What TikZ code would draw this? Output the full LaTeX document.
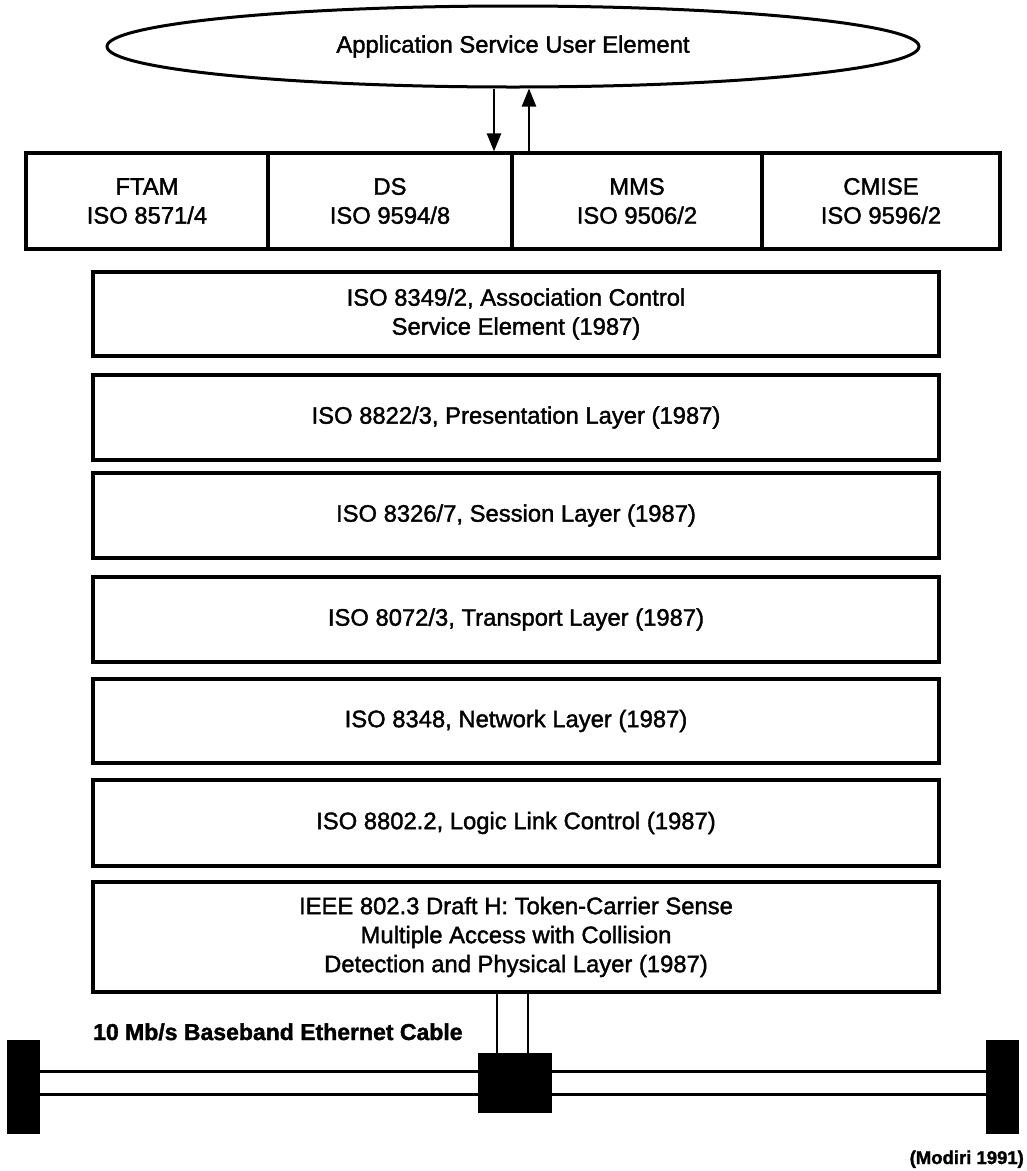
\documentclass[tikz,border=0pt]{standalone}
\usepackage{fontspec}
\setmainfont[FakeBold=1.6,BoldFeatures={FakeBold=1.6}]{Liberation Sans}
\usetikzlibrary{arrows.meta,shapes.geometric}
\begin{document}
\begin{tikzpicture}[x=1pt,y=-1pt,
  txt/.style={font=\fontsize{23.8}{29}\selectfont},
  box/.style={draw, line width=3.2pt, rectangle, inner sep=0pt, align=center, txt},
  toprow/.style={box, minimum height=96pt},
  layer/.style={box, minimum width=846pt},
  arr/.style={line width=2.4pt, -{Triangle[length=18pt,width=14pt]}},
  blk/.style={fill=black, draw=black, inner sep=0pt},
  cable/.style={line width=3pt},
  stub/.style={line width=2.6pt}]
\useasboundingbox (0,0) rectangle (1027,1171);

% top ellipse
\node[draw, ellipse, line width=3pt, minimum width=812pt, minimum height=81pt, inner sep=0pt, txt] (ase) at (513,46.5) {Application Service User Element};

% application row
\node[toprow, minimum width=242pt] (ftam) at (147,201) {FTAM\\ISO 8571/4};
\node[toprow, minimum width=244pt] (ds) at (390,201) {DS\\ISO 9594/8};
\node[toprow, minimum width=250pt] (mms) at (637,201) {MMS\\ISO 9506/2};
\node[toprow, minimum width=238pt] (cmise) at (881,201) {CMISE\\ISO 9596/2};

% arrows
\coordinate (dx) at (494,0);
\coordinate (ux) at (529,0);
\draw[arr] (ase.south -| dx) -- (ds.north -| dx);
\draw[arr] (mms.north -| ux) -- (ase.south -| ux);

% layers
\node[layer, minimum height=84pt] (acse) at (516,314) {ISO 8349/2, Association Control\\Service Element (1987)};
\node[layer, minimum height=85pt] (pres) at (516,417.5) {ISO 8822/3, Presentation Layer (1987)};
\node[layer, minimum height=85pt] (sess) at (516,515.5) {ISO 8326/7, Session Layer (1987)};
\node[layer, minimum height=85pt] (trans) at (516,619.5) {ISO 8072/3, Transport Layer (1987)};
\node[layer, minimum height=84pt] (net) at (516,721) {ISO 8348, Network Layer (1987)};
\node[layer, minimum height=86pt] (llc) at (516,823) {ISO 8802.2, Logic Link Control (1987)};
\node[layer, minimum height=110pt] (ieee) at (516,937) {IEEE 802.3 Draft H: Token-Carrier Sense\\Multiple Access with Collision\\Detection and Physical Layer (1987)};

% ethernet cable
\node[blk, minimum width=73pt, minimum height=59pt] (tap) at (514.5,1082.5) {};
\node[blk, minimum width=32pt, minimum height=93pt] (tl) at (23,1086.5) {};
\node[blk, minimum width=32pt, minimum height=93pt] (tr) at (1002,1086.5) {};
\coordinate (c1) at (0,1071);
\coordinate (c2) at (0,1094);
\draw[cable] (tl.east |- c1) -- (tap.west |- c1);
\draw[cable] (tap.east |- c1) -- (tr.west |- c1);
\draw[cable] (tl.east |- c2) -- (tap.west |- c2);
\draw[cable] (tap.east |- c2) -- (tr.west |- c2);
\coordinate (s1) at (497,0);
\coordinate (s2) at (528,0);
\draw[stub] (ieee.south -| s1) -- (tap.north -| s1);
\draw[stub] (ieee.south -| s2) -- (tap.north -| s2);

% labels
\node[anchor=base west, inner sep=0pt, font=\bfseries\fontsize{23}{27}\selectfont] (cab) at (93,1040) {10 Mb/s Baseband Ethernet Cable};
\node[anchor=base east, inner sep=0pt, font=\bfseries\fontsize{18.5}{22}\selectfont] (src) at (1024,1164) {(Modiri 1991)};
\end{tikzpicture}
\end{document}
